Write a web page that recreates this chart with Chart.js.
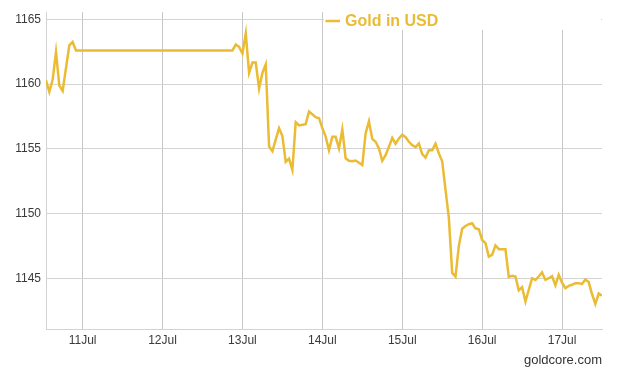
<!DOCTYPE html>
<html><head><meta charset="utf-8">
<script src="https://cdn.jsdelivr.net/npm/chart.js@4"></script>
<style>html,body{margin:0;padding:0;background:#fff;overflow:hidden}</style>
</head><body>
<canvas id="c" width="622" height="371"></canvas>
<script>
const seriesLabel = 'Gold in USD';
const creditText = 'goldcore.com';
const hoursFromJul10 = [13,14,15,16,17,18,20,21,22,69,70,71,72,73,74,75,76,77,78,79,80,81,83,84,85,86,87,88,89,91,92,94,95,96,97,98,99,100,101,102,103,104,105,106,107,108,109,110,111,112,113,114,115,116,117,118,119,120,121,122,123,124,125,126,127,128,129,130,131,132,133,134,135,136,137,138,139,140,141,142,143,144,145,146,147,148,149,150,151,152,153,154,155,156,157,158,159,160,161,162,163,164,165,166,167,168,169,170,171,172,173,174,175,176,177,178,179,180];
const goldUsd = [1160.3,1159.4,1160.35,1162.48,1159.88,1159.47,1163.0,1163.25,1162.6,1162.6,1163.05,1162.87,1162.36,1163.9,1160.86,1161.66,1161.66,1159.66,1160.86,1161.51,1155.18,1154.83,1156.6,1155.99,1154.0,1154.25,1153.37,1157.06,1156.81,1156.91,1157.89,1157.45,1157.37,1156.6,1155.95,1154.9,1155.93,1155.93,1155.04,1156.5,1154.27,1154.08,1154.04,1154.1,1153.93,1153.75,1156.19,1157.13,1155.77,1155.55,1155.04,1154.08,1154.52,1155.16,1155.85,1155.4,1155.81,1156.1,1155.9,1155.55,1155.29,1155.14,1155.42,1154.6,1154.33,1154.9,1154.9,1155.4,1154.65,1154.04,1151.83,1149.67,1145.43,1145.15,1147.51,1148.84,1149.05,1149.19,1149.26,1148.87,1148.8,1147.97,1147.72,1146.69,1146.82,1147.55,1147.26,1147.26,1147.26,1145.12,1145.2,1145.15,1144.08,1144.33,1143.22,1144.12,1145.02,1144.89,1145.15,1145.47,1144.89,1145.02,1145.18,1144.47,1145.28,1144.68,1144.25,1144.43,1144.51,1144.64,1144.64,1144.57,1144.92,1144.72,1143.8,1143.03,1143.84,1143.66];
const xTickHours = [24,48,72,96,120,144,168];
const xTickLabels = ['11Jul','12Jul','13Jul','14Jul','15Jul','16Jul','17Jul'];
const yTickValues = [1145,1150,1155,1160,1165];

const GOLD = '#ebbb33';
const points = hoursFromJul10.map((h, i) => ({ x: h, y: goldUsd[i] }));

const legendAndCredit = {
  id: 'legendAndCredit',
  beforeDatasetsDraw(chart) {
    const ctx = chart.ctx, a = chart.chartArea;
    const cx = (a.left + a.right) / 2;
    ctx.save();
    ctx.fillStyle = '#ffffff';
    ctx.fillRect(cx, 0, a.right - 1 - cx, 30);
    ctx.strokeStyle = GOLD;
    ctx.lineWidth = 2.5;
    ctx.beginPath();
    ctx.moveTo(cx + 1.5, 21);
    ctx.lineTo(cx + 16, 21);
    ctx.stroke();
    ctx.fillStyle = GOLD;
    ctx.font = 'bold 16px "Liberation Sans", Arial, sans-serif';
    ctx.textBaseline = 'middle';
    ctx.textAlign = 'left';
    ctx.fillText(chart.data.datasets[0].label, cx + 21, 21.5);
    ctx.restore();
  },
  afterDraw(chart) {
    const ctx = chart.ctx, a = chart.chartArea;
    ctx.save();
    ctx.fillStyle = '#333333';
    ctx.font = '13px "Liberation Sans", Arial, sans-serif';
    ctx.textBaseline = 'middle';
    ctx.textAlign = 'right';
    ctx.fillText(creditText, a.right, 360);
    ctx.restore();
  }
};

new Chart(document.getElementById('c'), {
  type: 'line',
  data: {
    datasets: [{
      label: seriesLabel,
      data: points,
      borderColor: GOLD,
      backgroundColor: GOLD,
      borderWidth: 2.5,
      pointRadius: 0,
      tension: 0,
      fill: false
    }]
  },
  options: {
    responsive: false,
    animation: false,
    layout: { padding: { left: 0, right: 20, top: 12, bottom: 0 } },
    plugins: { legend: { display: false }, tooltip: { enabled: false } },
    scales: {
      x: {
        type: 'linear',
        min: 13,
        max: 180,
        afterBuildTicks: s => { s.ticks = xTickHours.map(v => ({ value: v })); },
        afterFit: s => { s.height = 42; },
        ticks: {
          autoSkip: false,
          maxRotation: 0,
          padding: 4,
          color: '#3a3a3a',
          font: { family: '"Liberation Sans", Arial, sans-serif', size: 12 },
          callback: (v, i) => xTickLabels[i]
        },
        grid: { color: '#c6c6c6', lineWidth: 1, drawTicks: false },
        border: { display: true, color: '#d2d2d2' }
      },
      y: {
        min: 1141.1,
        max: 1165.55,
        afterBuildTicks: s => { s.ticks = yTickValues.map(v => ({ value: v })); },
        afterFit: s => { s.width = 46; },
        ticks: {
          padding: 5,
          color: '#3a3a3a',
          font: { family: '"Liberation Sans", Arial, sans-serif', size: 12 },
          callback: v => String(v)
        },
        grid: { color: '#d4d4d4', lineWidth: 1, drawTicks: false },
        border: { display: true, color: '#d2d2d2' }
      }
    }
  },
  plugins: [legendAndCredit]
});
</script>
</body></html>
